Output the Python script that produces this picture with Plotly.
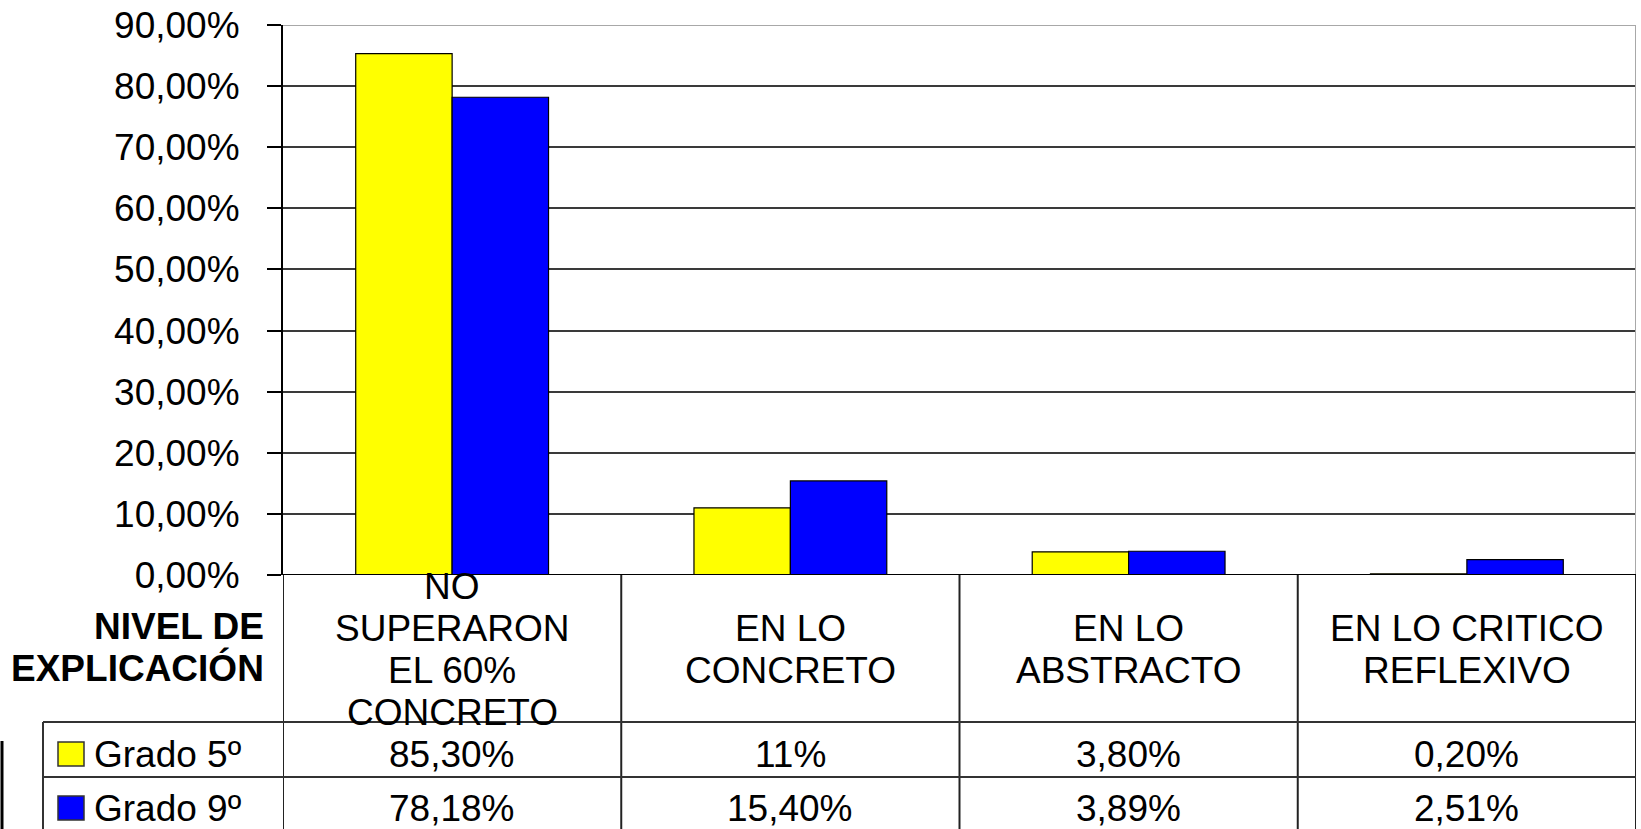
import plotly.graph_objects as go

# ---- data ----
categories = ["NO<br>SUPERARON<br>EL 60%<br>CONCRETO", "EN LO<br>CONCRETO",
              "EN LO<br>ABSTRACTO", "EN LO CRITICO<br>REFLEXIVO"]
series_names = ["Grado 5º", "Grado 9º"]
grado5 = [85.30, 11.0, 3.80, 0.20]
grado9 = [78.18, 15.40, 3.89, 2.51]
labels5 = ["85,30%", "11%", "3,80%", "0,20%"]
labels9 = ["78,18%", "15,40%", "3,89%", "2,51%"]
colors = ["#FFFF00", "#0000FF"]
ytick_vals = [0, 10, 20, 30, 40, 50, 60, 70, 80, 90]
ytick_text = ["0,00%", "10,00%", "20,00%", "30,00%", "40,00%", "50,00%",
              "60,00%", "70,00%", "80,00%", "90,00%"]
row_title = ["NIVEL DE", "EXPLICACIÓN"]

W, H = 1641, 829
FONT = "Liberation Sans, Arial, sans-serif"
FS = 37


def py(y):
    return 1 - y / H


def px(x):
    return x / W


x_idx = list(range(len(categories)))
fig = go.Figure()
for name, vals, col in zip(series_names, [grado5, grado9], colors):
    fig.add_trace(go.Bar(x=x_idx, y=vals, name=name,
                         marker=dict(color=col, line=dict(color="#000000", width=1.2))))

X0, X1 = 283, 1636
Y_TOP, Y_BOT = 25, 575

fig.update_layout(
    width=W, height=H, margin=dict(l=0, r=0, t=0, b=0, autoexpand=False),
    paper_bgcolor="white", plot_bgcolor="white",
    barmode="group", bargap=0.43, bargroupgap=0,
    showlegend=False,
    font=dict(family=FONT, size=FS, color="#000000"),
    xaxis=dict(domain=[px(X0), px(X1)], range=[-0.5, 3.5], showticklabels=False,
               showgrid=False, zeroline=False, showline=False, ticks="", automargin=False),
    yaxis=dict(domain=[py(Y_BOT), py(Y_TOP)], range=[0, 90], tickvals=ytick_vals,
               ticktext=ytick_text, showgrid=True, gridcolor="#3a3a3a", gridwidth=1.5,
               zeroline=False, showline=True, linecolor="#000000", linewidth=2,
               ticks="outside", ticklen=14, tickcolor="#000000", tickwidth=1.5,
               ticklabelstandoff=20,
               automargin=False, tickfont=dict(family=FONT, size=FS)),
)

shapes = []
# plot border top/right (light gray)
shapes.append(dict(type="line", xref="x", yref="y", x0=-0.5, x1=3.5, y0=90, y1=90,
                   line=dict(color="#a8a8a8", width=2)))
shapes.append(dict(type="line", xref="x", yref="y", x0=3.5, x1=3.5, y0=0, y1=90,
                   line=dict(color="#a8a8a8", width=2)))
# table vertical lines
for k in range(len(categories) + 1):
    shapes.append(dict(type="line", xref="x", yref="paper", x0=k - 0.5, x1=k - 0.5,
                       y0=py(Y_BOT), y1=0, line=dict(color="#222222", width=2)))
# 0% baseline
shapes.append(dict(type="line", xref="x", yref="y", x0=-0.5, x1=3.5, y0=0, y1=0,
                   line=dict(color="#000000", width=2)))
# table horizontal lines
for yy in [722, 777]:
    shapes.append(dict(type="line", xref="paper", yref="paper", x0=px(43), x1=px(X1),
                       y0=py(yy), y1=py(yy), line=dict(color="#333333", width=2)))
shapes.append(dict(type="line", xref="paper", yref="paper", x0=px(43), x1=px(43),
                   y0=py(722), y1=0, line=dict(color="#333333", width=2)))
# far-left edge line
shapes.append(dict(type="line", xref="paper", yref="paper", x0=px(2), x1=px(2),
                   y0=py(741), y1=0, line=dict(color="#000000", width=3)))
# legend keys
row_y = [754, 808]
for col, yy in zip(colors, row_y):
    shapes.append(dict(type="rect", xref="paper", yref="paper", x0=px(58), x1=px(84),
                       y0=py(yy - 12), y1=py(yy + 12), fillcolor=col,
                       line=dict(color="#333333", width=1.5)))

annotations = []
# category header labels, line by line
for i, cat in enumerate(categories):
    lines = cat.split("<br>")
    n = len(lines)
    for k, ln in enumerate(lines):
        yy = 649 + (k - (n - 1) / 2) * 42
        annotations.append(dict(x=i, y=py(yy), xref="x", yref="paper", text=ln,
                                showarrow=False, xanchor="center", yanchor="middle",
                                font=dict(family=FONT, size=FS, color="#000000")))
# row title
for k, ln in enumerate(row_title):
    annotations.append(dict(x=px(266), y=py(626 + 42 * k), xref="paper", yref="paper",
                            text="<b>" + ln + "</b>", showarrow=False, xanchor="right",
                            yanchor="middle", font=dict(family=FONT, size=37, color="#000000")))
# values
for labs, yy in zip([labels5, labels9], row_y):
    for i, lab in enumerate(labs):
        annotations.append(dict(x=i, y=py(yy), xref="x", yref="paper", text=lab,
                                showarrow=False, xanchor="center", yanchor="middle",
                                font=dict(family=FONT, size=FS, color="#000000")))
# legend names
for name, yy in zip(series_names, row_y):
    annotations.append(dict(x=px(92), y=py(yy), xref="paper", yref="paper", text=name,
                            showarrow=False, xanchor="left", yanchor="middle",
                            font=dict(family=FONT, size=FS, color="#000000")))

fig.update_layout(shapes=shapes, annotations=annotations)
fig.write_html("out.html", config={"displayModeBar": False},
               post_script="document.body.style.margin='0';document.body.style.overflow='hidden';")
